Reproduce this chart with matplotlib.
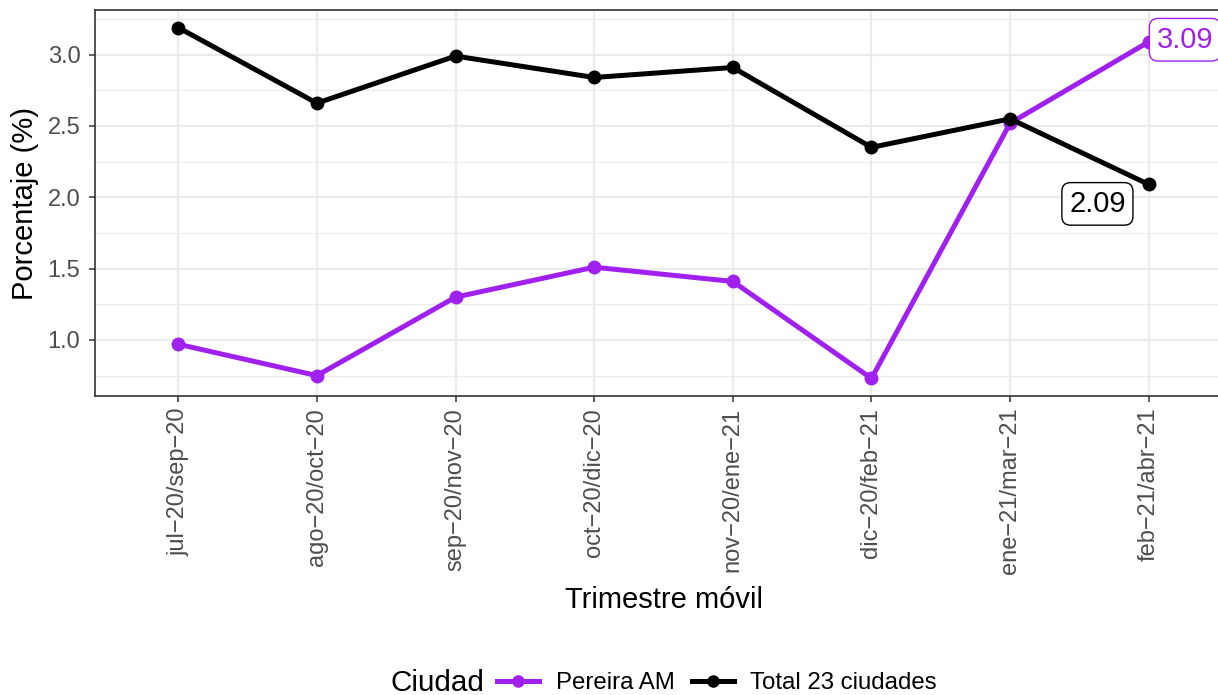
import matplotlib
matplotlib.use("Agg")
import matplotlib.pyplot as plt
from matplotlib.lines import Line2D
from matplotlib.ticker import MultipleLocator, FormatStrFormatter

plt.rcParams['font.family'] = ['Liberation Sans', 'DejaVu Sans']

# data
trimestres = ["jul\u221220/sep\u221220", "ago\u221220/oct\u221220", "sep\u221220/nov\u221220",
              "oct\u221220/dic\u221220", "nov\u221220/ene\u221221", "dic\u221220/feb\u221221",
              "ene\u221221/mar\u221221", "feb\u221221/abr\u221221"]
pereira = [0.97, 0.75, 1.30, 1.51, 1.41, 0.73, 2.52, 3.09]
total = [3.19, 2.66, 2.99, 2.84, 2.91, 2.35, 2.55, 2.09]

PURPLE = "#A020F0"
GRID = "#EBEBEB"
DARK = "#333333"
TICKC = "#4D4D4D"

fig = plt.figure(figsize=(12.18, 6.95), dpi=100)
ax = fig.add_axes([95 / 1218, 1 - 396 / 695, (1232 - 95) / 1218, (396 - 10) / 695])

x = list(range(len(trimestres)))
ax.plot(x, pereira, color=PURPLE, lw=3.6, marker="o", ms=9, zorder=3)
ax.plot(x, total, color="black", lw=3.6, marker="o", ms=9, zorder=3)

ax.set_xlim(-0.6, len(trimestres) - 1 + 0.6)
ymin = min(pereira + total)
ymax = max(pereira + total)
pad = (ymax - ymin) * 0.05
ax.set_ylim(ymin - pad, ymax + pad)

ax.yaxis.set_major_locator(MultipleLocator(0.5))
ax.yaxis.set_minor_locator(MultipleLocator(0.25))
ax.yaxis.set_major_formatter(FormatStrFormatter("%.1f"))
ax.set_xticks(x)
ax.set_xticklabels(trimestres, rotation=90, fontsize=17, color=TICKC)
ax.tick_params(axis="y", labelsize=17, labelcolor=TICKC, pad=6)
ax.tick_params(axis="x", pad=4)
ax.tick_params(which="major", length=4.5, width=1.1, color=DARK)
ax.tick_params(which="minor", length=0)

ax.grid(True, which="major", color=GRID, lw=1.6, zorder=0)
ax.grid(True, which="minor", axis="y", color=GRID, lw=0.8, zorder=0)
ax.set_axisbelow(True)
for s in ax.spines.values():
    s.set_color(DARK)
    s.set_linewidth(1.2)

ax.set_xlabel("Trimestre m\u00f3vil", fontsize=21, labelpad=8)
ax.set_ylabel("Porcentaje (%)", fontsize=21, labelpad=6)

# end labels
bbox_p = dict(boxstyle="round,pad=0.25,rounding_size=0.3", fc="white", ec=PURPLE, lw=1)
bbox_t = dict(boxstyle="round,pad=0.25,rounding_size=0.3", fc="white", ec="black", lw=1)
ax.annotate(f"{pereira[-1]:.2f}", (x[-1], pereira[-1]), xytext=(26, 1.5),
            textcoords="offset points", ha="center", va="center",
            fontsize=21, color=PURPLE, bbox=bbox_p, zorder=5, annotation_clip=False)
ax.annotate(f"{total[-1]:.2f}", (x[-1], total[-1]), xytext=(-37, -14),
            textcoords="offset points", ha="center", va="center",
            fontsize=21, color="black", bbox=bbox_t, zorder=5)

# legend
fig.text(390 / 1218, 1 - 683 / 695, "Ciudad", fontsize=21.3, va="center", ha="left")
handles = [Line2D([], [], color=PURPLE, lw=3.6, marker="o", ms=8),
           Line2D([], [], color="black", lw=3.6, marker="o", ms=8)]
fig.legend(handles, ["Pereira AM", "Total 23 ciudades"], ncol=2, frameon=False,
           loc="center", bbox_to_anchor=(717 / 1218, 1 - 683 / 695), fontsize=17.3,
           handlelength=1.75, handletextpad=0.7, columnspacing=0.7)

fig.savefig("out.png", dpi=100)
